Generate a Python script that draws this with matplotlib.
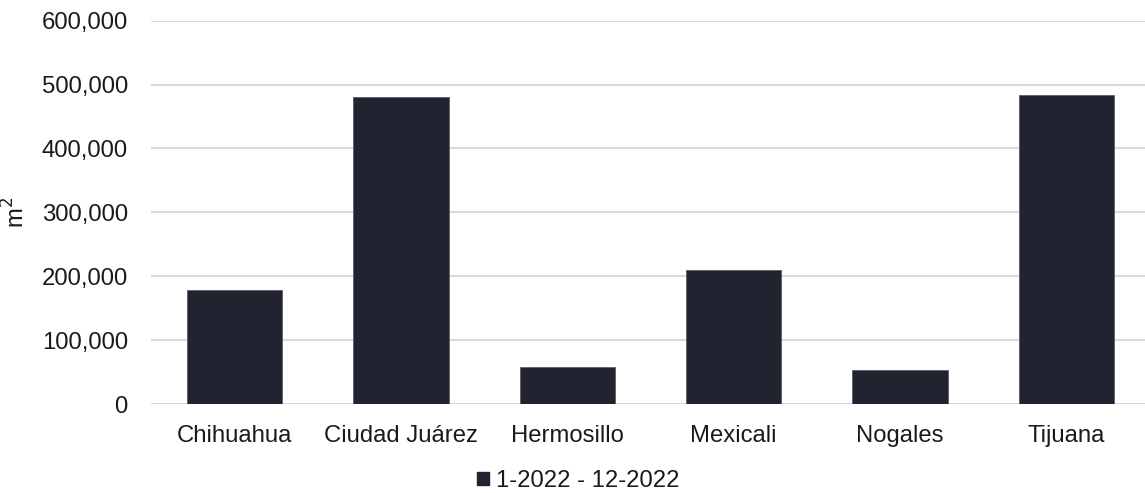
import matplotlib
matplotlib.use("Agg")
import matplotlib.pyplot as plt
from matplotlib.ticker import FuncFormatter, MultipleLocator
from matplotlib.patches import Patch

plt.rcParams['font.family'] = ['Liberation Sans', 'DejaVu Sans']

cities = ["Chihuahua", "Ciudad Juárez", "Hermosillo", "Mexicali", "Nogales", "Tijuana"]
area_m2 = [178000, 480000, 58000, 210000, 54000, 483000]
series_label = "1-2022 - 12-2022"

bar_color = "#212331"
grid_color = "#d9d9d9"
text_color = "#1a1a1a"

fig = plt.figure(figsize=(11.45, 4.93), dpi=100)
ax = fig.add_axes([0.1323, 0.1805, 0.8716, 0.7776])

x = range(len(cities))
ax.bar(x, area_m2, width=0.573, color=bar_color, edgecolor="#5a5c6a",
       linewidth=0.6, zorder=3)

ax.set_xlim(-0.5, len(cities) - 0.5)
ax.set_ylim(0, 600000)
ax.yaxis.set_major_locator(MultipleLocator(100000))
ax.yaxis.set_major_formatter(FuncFormatter(lambda v, p: f"{int(v):,}"))
ax.grid(axis="y", color=grid_color, linewidth=1.5, zorder=0)
ax.set_axisbelow(True)

for s in ax.spines.values():
    s.set_visible(False)

ax.set_xticks(list(x))
ax.set_xticklabels(cities)
ax.tick_params(axis="both", length=0, labelsize=17.2, colors=text_color)
ax.tick_params(axis="y", pad=17)
ax.tick_params(axis="x", pad=15)

ax.set_ylabel("m$^2$", fontsize=17.2, color=text_color, labelpad=9)

handle = Patch(facecolor=bar_color, edgecolor=bar_color)
fig.legend([handle], [series_label], loc="center", bbox_to_anchor=(0.505, 0.024),
           frameon=False, fontsize=17.2, handlelength=0.5, handleheight=0.5,
           handletextpad=0.3, labelcolor=text_color)

fig.savefig("out.png", dpi=100)
